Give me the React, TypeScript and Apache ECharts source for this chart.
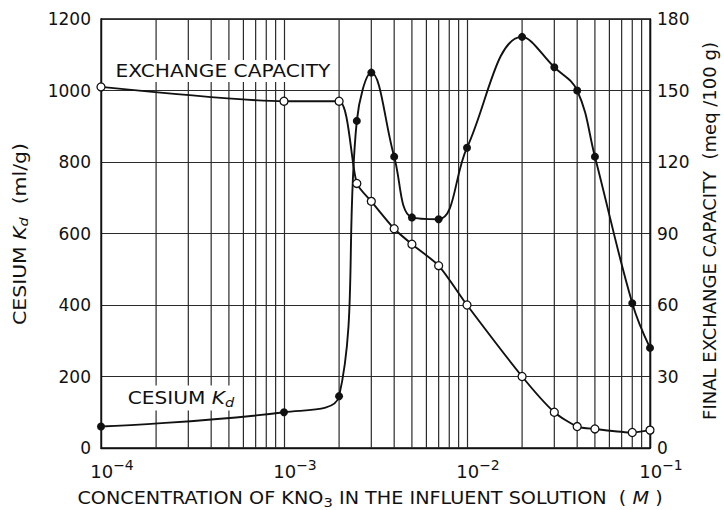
import React, { useEffect, useRef } from "react";
import * as echarts from "echarts";

// ---- data ----
const kdConc = [1e-4, 1e-3, 2e-3, 2.5e-3, 3e-3, 4e-3, 5e-3, 7e-3, 1e-2, 2e-2, 3e-2, 4e-2, 5e-2, 8e-2, 1e-1];
const kdValues = [60, 100, 145, 915, 1050, 815, 645, 640, 840, 1150, 1065, 1000, 815, 405, 280];
const capConc = [1e-4, 1e-3, 2e-3, 2.5e-3, 3e-3, 4e-3, 5e-3, 7e-3, 1e-2, 2e-2, 3e-2, 4e-2, 5e-2, 8e-2, 1e-1];
const capValues = [151.5, 145.5, 145.5, 111, 103.5, 92, 85.5, 76.5, 60, 30, 15, 9, 8, 6.5, 7.5];
const decades = [-4, -3, -2];
const minorMultipliers = [2, 3, 4, 5, 6, 7, 8, 9];
const leftTicks = { min: 0, max: 1200, interval: 200 };
const rightTicks = { min: 0, max: 180, interval: 30 };

const FONT = "DejaVu Sans";
const INK = "#111";
const GRID = "#2a2a2a";

export default function App() {
  const ref = useRef<HTMLDivElement>(null);
  useEffect(() => {
    if (!ref.current) return;
    const chart = echarts.init(ref.current, undefined, { renderer: "svg" });
    const minorValues: number[][] = [];
    decades.forEach((d) =>
      minorMultipliers.forEach((m) => minorValues.push([m * Math.pow(10, d), 0]))
    );
    const option: any = {
      animation: false,
      backgroundColor: "#fff",
      textStyle: { fontFamily: FONT, color: INK },
      grid: {
        left: 101,
        right: 74,
        top: 19,
        bottom: 62,
        show: true,
        borderColor: INK,
        borderWidth: 1.3,
        backgroundColor: "transparent",
      },
      xAxis: {
        type: "log",
        logBase: 10,
        min: 1e-4,
        max: 1e-1,
        axisLine: { show: true, lineStyle: { color: INK, width: 1.3 } },
        axisTick: { show: false },
        splitLine: { show: true, lineStyle: { color: GRID, width: 1.2 } },
        axisLabel: {
          margin: 10,
          padding: [0, 0, 0, 22],
          formatter: (v: number) => {
            const e = Math.round(Math.log10(v));
            return "{b|10}{sup|\u2212" + Math.abs(e) + "}";
          },
          rich: {
            b: { fontSize: 18, fontFamily: FONT, color: INK, lineHeight: 22, verticalAlign: "bottom" },
            sup: { fontSize: 14, fontFamily: FONT, color: INK, lineHeight: 22, verticalAlign: "top", padding: [0, 0, 8, 0] },
          },
        },
      },
      yAxis: [
        {
          type: "value",
          min: leftTicks.min,
          max: leftTicks.max,
          interval: leftTicks.interval,
          axisLine: { show: true, lineStyle: { color: INK, width: 1.3 } },
          axisTick: { show: false },
          splitLine: { show: true, lineStyle: { color: GRID, width: 1.2 } },
          axisLabel: { fontSize: 17, fontFamily: FONT, color: INK, margin: 10, formatter: (v: number) => String(v) },
        },
        {
          type: "value",
          min: rightTicks.min,
          max: rightTicks.max,
          interval: rightTicks.interval,
          position: "right",
          axisLine: { show: true, lineStyle: { color: INK, width: 1.3 } },
          axisTick: { show: false },
          splitLine: { show: false },
          axisLabel: { fontSize: 17, fontFamily: FONT, color: INK, margin: 7, formatter: (v: number) => String(v) },
        },
      ],
      series: [
        {
          name: "minor grid",
          type: "custom",
          silent: true,
          z: 1,
          data: minorValues,
          encode: { x: 0, y: 1 },
          renderItem: (params: any, api: any) => {
            const x = api.coord([api.value(0), 0])[0];
            const cs = params.coordSys;
            return {
              type: "line",
              shape: { x1: x, y1: cs.y, x2: x, y2: cs.y + cs.height },
              style: { stroke: GRID, lineWidth: 1.2 },
            };
          },
        },
        {
          name: "Cesium Kd",
          type: "line",
          yAxisIndex: 0,
          smooth: 0.4,
          data: kdConc.map((c, i) => [c, kdValues[i]]),
          symbol: "circle",
          symbolSize: 8,
          lineStyle: { color: INK, width: 1.9 },
          itemStyle: { color: INK },
          z: 5,
        },
        {
          name: "Exchange capacity",
          type: "line",
          yAxisIndex: 1,
          smooth: 0.22,
          data: capConc.map((c, i) => [c, capValues[i]]),
          symbol: "circle",
          symbolSize: 8,
          lineStyle: { color: INK, width: 1.9 },
          itemStyle: { color: "#fff", borderColor: INK, borderWidth: 1.3 },
          z: 6,
        },
      ],
      graphic: [
        {
          type: "text",
          x: 223,
          y: 71,
          z: 10,
          scaleX: 1.12,
          style: {
            text: "EXCHANGE CAPACITY",
            fontFamily: FONT,
            fontSize: 18,
            fill: INK,
            align: "center",
            verticalAlign: "middle",
            backgroundColor: "#fff",
            padding: [2, 3],
          },
        },
        {
          type: "text",
          x: 181,
          y: 398,
          z: 10,
          scaleX: 1.12,
          style: {
            text: "CESIUM {i|K}{sub|d}",
            fontFamily: FONT,
            fontSize: 18,
            fill: INK,
            align: "center",
            verticalAlign: "middle",
            backgroundColor: "#fff",
            padding: [2, 3],
            rich: {
              i: { fontSize: 18, fontStyle: "italic", fontFamily: FONT, fill: INK },
              sub: { fontSize: 13, fontStyle: "italic", fontFamily: FONT, fill: INK, padding: [8, 0, 0, 0] },
            },
          },
        },
        {
          type: "text",
          x: 20,
          y: 234,
          rotation: Math.PI / 2,
          scaleX: 1.2,
          style: {
            text: "CESIUM {i|K}{sub|d}  (ml/g)",
            fontFamily: FONT,
            fontSize: 17,
            fill: INK,
            align: "center",
            verticalAlign: "middle",
            rich: {
              i: { fontSize: 17, fontStyle: "italic", fontFamily: FONT, fill: INK },
              sub: { fontSize: 12, fontStyle: "italic", fontFamily: FONT, fill: INK, padding: [8, 0, 0, 0] },
            },
          },
        },
        {
          type: "text",
          x: 710,
          y: 231,
          rotation: Math.PI / 2,
          scaleX: 1.06,
          style: {
            text: "FINAL EXCHANGE CAPACITY  (meq /100 g)",
            fontFamily: FONT,
            fontSize: 17,
            fill: INK,
            align: "center",
            verticalAlign: "middle",
          },
        },
        {
          type: "text",
          x: 370,
          y: 498,
          scaleX: 1.13,
          style: {
            text: "CONCENTRATION OF KNO{sub|3} IN THE INFLUENT SOLUTION  ( {i|M} )",
            fontFamily: FONT,
            fontSize: 17,
            fill: INK,
            align: "center",
            verticalAlign: "middle",
            rich: {
              sub: { fontSize: 13, fontFamily: FONT, fill: INK, padding: [9, 0, 0, 0] },
              i: { fontSize: 17, fontStyle: "italic", fontFamily: FONT, fill: INK },
            },
          },
        },
      ],
    };
    chart.setOption(option);
    return () => chart.dispose();
  }, []);
  return (
    <div
      ref={ref}
      style={{ position: "fixed", left: 0, top: 0, width: 724, height: 510, background: "#fff" }}
    />
  );
}
